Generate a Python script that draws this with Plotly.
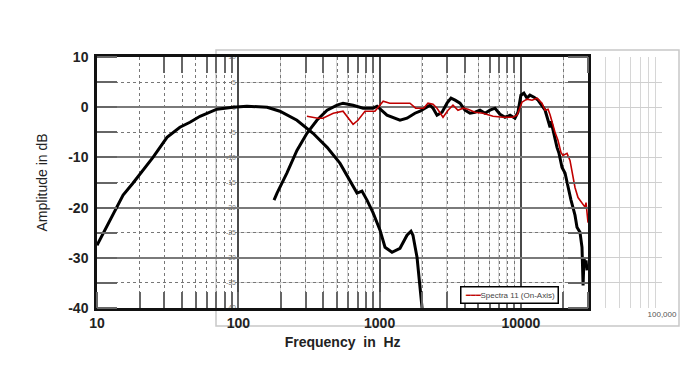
import plotly.graph_objects as go

# ---- data ----
woofer_freq = [10, 15.3, 18, 24.9, 31.3, 38.6, 45.5, 53.6, 70.6, 91.6, 115, 160, 197, 260, 338,
               425, 525, 617, 692, 750, 814, 898, 1007, 1092, 1224, 1394, 1563, 1667, 1722,
               1840, 1932, 1996, 2030]
woofer_db = [-27.5, -17.5, -15.1, -10, -6, -4, -3, -1.8, -0.4, 0, 0.2, 0, -0.8, -2.6, -5.2,
             -8, -11.2, -14.5, -17.1, -16.7, -18.5, -21, -24.5, -27.9, -28.9, -28.1, -25.5, -24.7, -25.5,
             -29.9, -35.9, -40, -42]

mid_freq = [179, 188, 221, 260, 306, 360, 425, 500, 551, 649, 764, 898, 960, 1127, 1394, 1563,
            1778, 1932, 2275, 2389, 2548, 2767, 3000, 3201, 3420, 3707, 4018, 4361, 4730, 5137,
            5575, 6043, 6555, 7115, 7717, 8375, 9077, 9530, 10000, 10500, 11040, 11580, 12380,
            13210, 14330, 14830, 15560, 16080, 16330, 16870, 17430, 18010, 18610, 19540, 20520,
            21200, 21890, 22620, 23370, 24140, 24940, 26190, 27060, 27540, 27970, 28430, 28900, 29380]
mid_db = [-18.5, -17.1, -13.1, -8.6, -5.2, -2.6, -0.6, 0.4, 0.8, 0.4, -0.2, -0.2, 0.2, -1.6, -2.6, -2.2,
          -1.2, -0.8, 0.4, -0.2, -1.6, -1, 0.8, 1.8, 1.4, 0.8, -0.6, -1.2, -1, -0.6,
          -1.2, -0.6, -0.2, -1.4, -2, -1.6, -2.2, -1, 2.4, 2.8, 1.8, 2.4, 2,
          1.4, 0, -0.6, -2.6, -4, -2.8, -4.6, -6.6, -8, -9.2, -12, -13.1,
          -15.1, -16.5, -18.5, -20, -21.5, -23.9, -24.9, -27.9, -35.5, -29.9, -31.9, -30.5, -32.5]

spectra_name = "Spectra 11 (On-Axis)"
spectra_freq = [306, 366, 397, 470, 551, 600, 649, 703, 788, 927, 1060, 1180, 1640, 1800, 2050,
                2200, 2389, 2548, 2810, 3050, 3305, 3587, 3890, 4225, 4730, 5393, 6350, 7470,
                8790, 9380, 10180, 11040, 11990, 13010, 14100, 14830, 15560, 16080, 16600,
                17430, 18290, 19210, 19840, 21200, 22250, 22990, 24140, 25360, 27060, 28430,
                28900, 29850]
spectra_db = [-1.8, -2.2, -2.2, -1.2, -0.8, -2.2, -3.4, -2.6, -0.8, -0.8, 1.2, 0.8, 0.8, -0.2, -0.2,
              0.8, 0.6, -0.2, -2, -0.6, 0.4, -0.6, -0.2, -0.4, -1, -1.2, -1.8, -2,
              -2, -1.6, 1, 1.6, 1.4, 1.8, 0.8, -0.6, -0.4, -1.5, -3,
              -5, -6.6, -9, -9.6, -9.2, -10.6, -12.5, -16, -18, -19, -19.9,
              -19, -23]

main_x_ticks = [10, 100, 1000, 10000]
main_x_labels = ["10", "100", "1000", "10000"]
main_y_ticks = [10, 0, -10, -20, -30, -40]
main_y_labels = ["10", "0", "-10", "-20", "-30", "-40"]
overlay_y_ticks = [10, 5, 0, -5, -10, -15, -20, -25, -30, -35, -40]
overlay_y_labels = ["10", "5", "0", "-5", "-10", "-15", "-20", "-25", "-30", "-35", "-40"]
overlay_x_ticks = [100, 1000, 10000, 100000]
overlay_x_labels = ["", "", "", "100,000"]

BOLD = "Liberation Sans"
RED = "#c00000"

fig = go.Figure()
# empty traces so the background overlay grid and the mirrored tick axes are drawn
fig.add_trace(go.Scatter(x=[1000], y=[None], mode="lines", xaxis="x", yaxis="y",
                         showlegend=False, hoverinfo="skip"))
fig.add_trace(go.Scatter(x=[1000], y=[None], mode="lines", xaxis="x3", yaxis="y3",
                         showlegend=False, hoverinfo="skip"))
fig.add_trace(go.Scatter(x=woofer_freq, y=woofer_db, mode="lines", xaxis="x2", yaxis="y2",
                         line=dict(color="black", width=3), showlegend=False, hoverinfo="skip"))
fig.add_trace(go.Scatter(x=mid_freq, y=mid_db, mode="lines", xaxis="x2", yaxis="y2",
                         line=dict(color="black", width=3), showlegend=False, hoverinfo="skip"))
fig.add_trace(go.Scatter(x=spectra_freq, y=spectra_db, mode="lines", xaxis="x2", yaxis="y2",
                         name=spectra_name, showlegend=False,
                         line=dict(color=RED, width=1.6)))

W, H = 681, 365
L, R, T, B = 97, 19, 57, 57
pw = W - L - R
ph = H - T - B
main_right = 0.8696
XR = [1, 4.4771]

minor_x = dict(dtick="D1", showgrid=True, gridcolor="#777", gridwidth=1,
               griddash="dot", ticks="inside", ticklen=16, tickcolor="#666", tickwidth=1.5)
minor_y = dict(dtick=5, showgrid=True, gridcolor="#777", gridwidth=1,
               griddash="dot", ticks="inside", ticklen=20, tickcolor="#666", tickwidth=1.5)

fig.update_layout(
    width=W, height=H,
    margin=dict(l=L, r=R, t=T, b=B),
    paper_bgcolor="white", plot_bgcolor="rgba(0,0,0,0)",
    showlegend=False,
    # overlay (background) grid
    xaxis=dict(type="log", domain=[(238 - L) / pw, 1], range=[2, 5], anchor="y",
               tickmode="array", tickvals=overlay_x_ticks, ticktext=overlay_x_labels,
               showgrid=True, gridcolor="#cfcfcf", gridwidth=1, ticks="",
               tickfont=dict(family="Liberation Sans", size=8, color="#555"),
               minor=dict(dtick="D1", showgrid=True, gridcolor="#d6d6d6", gridwidth=1),
               showline=False, zeroline=False, fixedrange=True, automargin=False),
    yaxis=dict(range=[-40, 10], domain=[0, 1], anchor="x", tickmode="array",
               tickvals=overlay_y_ticks, ticktext=overlay_y_labels,
               showgrid=True, gridcolor="#cfcfcf", gridwidth=1,
               tickfont=dict(family="Liberation Sans", size=7, color="#777"),
               ticklabelstandoff=1, showline=False, zeroline=False, fixedrange=True,
               automargin=False),
    # main chart
    xaxis2=dict(type="log", domain=[0, main_right], range=XR, anchor="y2",
                tickmode="array", tickvals=main_x_ticks, ticktext=main_x_labels,
                tickfont=dict(family=BOLD, size=14, color="#222", weight="bold"),
                showgrid=True, gridcolor="#4a4a4a", gridwidth=2,
                ticks="", showline=True, linecolor="#111", linewidth=2.5, mirror=True,
                minor=minor_x,
                title=dict(text="Frequency  in  Hz", standoff=8,
                           font=dict(family=BOLD, size=14, color="#222", weight="bold")),
                zeroline=False, fixedrange=True, automargin=False),
    yaxis2=dict(range=[-40, 10], domain=[0, 1], anchor="x2", tickmode="array",
                tickvals=main_y_ticks, ticktext=main_y_labels,
                tickfont=dict(family=BOLD, size=14, color="#222", weight="bold"),
                showgrid=True, gridcolor="#7a7a7a", gridwidth=2, ticks="",
                showline=True, linecolor="#111", linewidth=2.5, mirror=True,
                minor=minor_y,
                title=dict(text="Amplitude in dB", standoff=18,
                           font=dict(family="Liberation Sans Narrow, Liberation Sans", size=14, color="#222")),
                zeroline=False, fixedrange=True, ticklabelstandoff=3, automargin=False),
    # mirrored inner ticks (top and right)
    xaxis3=dict(type="log", range=XR, overlaying="x2", side="top", anchor="y3",
                showticklabels=False, ticks="", showgrid=False, showline=False,
                minor=dict(dtick="D1", showgrid=False, ticks="inside", ticklen=16,
                           tickcolor="#666", tickwidth=1.5),
                zeroline=False, fixedrange=True, automargin=False),
    yaxis3=dict(range=[-40, 10], overlaying="y2", side="right", anchor="x3",
                showticklabels=False, ticks="", showgrid=False, showline=False,
                tickvals=main_y_ticks,
                minor=dict(dtick=5, showgrid=False, ticks="inside", ticklen=20,
                           tickcolor="#666", tickwidth=1.5),
                zeroline=False, fixedrange=True, automargin=False),
    annotations=[dict(xref="paper", yref="paper", x=(509 - L) / pw, y=(308 - 295) / ph,
                      xanchor="center", yanchor="middle", showarrow=False,
                      text=f"<span style='color:{RED}'>━━━</span>{spectra_name}",
                      font=dict(family="Liberation Sans Narrow, Liberation Sans", size=8, color="#444"),
                      bgcolor="white", bordercolor="black", borderwidth=1.5, borderpad=3)],
    shapes=[dict(type="rect", xref="paper", yref="paper",
                 x0=(216 - L) / pw, x1=(679 - L) / pw,
                 y0=(308 - 326) / ph, y1=(308 - 50) / ph,
                 line=dict(color="#c8c8c8", width=1.5), fillcolor="rgba(0,0,0,0)", layer="below")],
)

fig.write_html("out.html", config={"displayModeBar": False},
               post_script="document.body.style.margin='0px';")
